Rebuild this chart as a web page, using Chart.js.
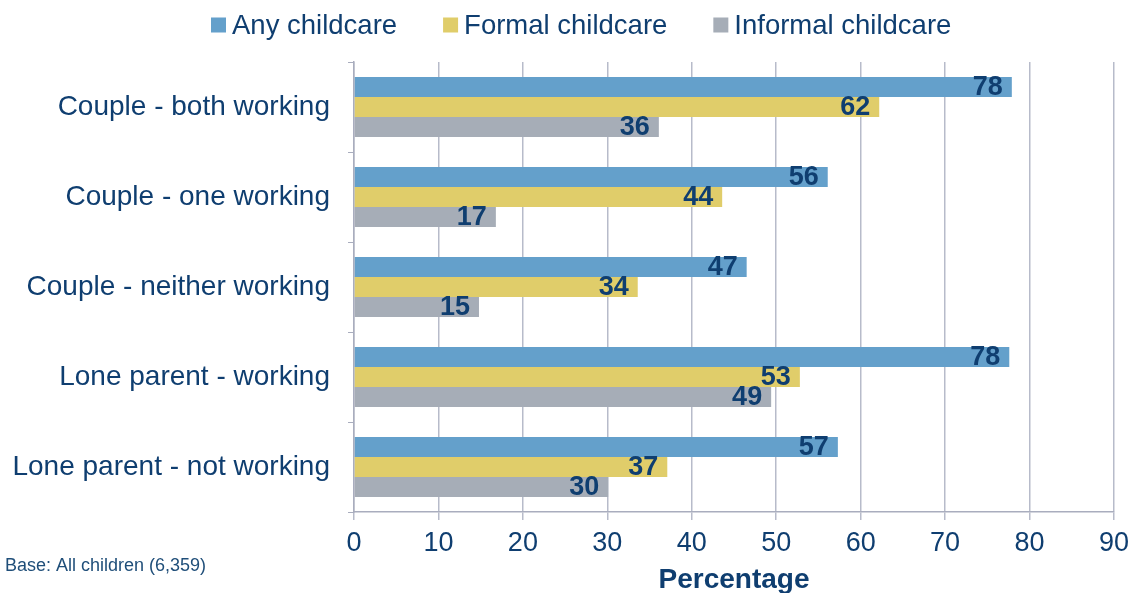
<!DOCTYPE html>
<html>
<head>
<meta charset="utf-8">
<script src="https://cdn.jsdelivr.net/npm/chart.js@4"></script>
<style>
  html, body { margin: 0; padding: 0; background: #fff; }
  #wrap { width: 1132px; height: 593px; position: relative; }
</style>
</head>
<body>
<div id="wrap"><canvas id="myChart" width="1132" height="593"></canvas></div>
<script>
const categories = ['Couple - both working', 'Couple - one working', 'Couple - neither working', 'Lone parent - working', 'Lone parent - not working'];
const seriesNames = ['Any childcare', 'Formal childcare', 'Informal childcare'];
const anyCare = [77.9, 56.1, 46.5, 77.6, 57.3];
const formalCare = [62.2, 43.6, 33.6, 52.8, 37.1];
const informalCare = [36.1, 16.8, 14.8, 49.4, 30.1];
const xTicks = [0, 10, 20, 30, 40, 50, 60, 70, 80, 90];
const colors = ['#64A0CB', '#E0CD6A', '#A6ADB7'];

const navy = '#0F3E70';
const fontFam = '"Liberation Sans", Arial, sans-serif';

// value labels at the end of each bar
const barLabels = {
    id: 'barLabels',
    afterDatasetsDraw(chart) {
        const ctx = chart.ctx;
        ctx.save();
        ctx.font = 'bold 27px ' + fontFam;
        ctx.fillStyle = navy;
        ctx.textAlign = 'right';
        ctx.textBaseline = 'middle';
        chart.data.datasets.forEach((ds, i) => {
            chart.getDatasetMeta(i).data.forEach((bar, j) => {
                ctx.fillText(Math.round(ds.data[j]), bar.x - 9, bar.y + 1);
            });
        });
        ctx.restore();
    }
};

// legend on top and base note at bottom left
const extras = {
    id: 'extras',
    afterDraw(chart) {
        const ctx = chart.ctx;
        ctx.save();
        ctx.font = '27.5px ' + fontFam;
        ctx.textBaseline = 'middle';
        let widths = seriesNames.map(n => ctx.measureText(n).width);
        let box = 15, gap = 6, space = 46;
        let x = 211;
        let y = 25;
        seriesNames.forEach((n, i) => {
            ctx.fillStyle = colors[i];
            ctx.fillRect(x, y - box / 2, box, box);
            x += box + gap;
            ctx.fillStyle = navy;
            ctx.textAlign = 'left';
            ctx.fillText(n, x, y + 1);
            x += widths[i] + space;
        });
        ctx.font = '18px ' + fontFam;
        ctx.fillStyle = '#1F4E79';
        ctx.fillText('Base: All children (6,359)', 5, 566);
        ctx.restore();
    }
};

const config = {
    type: 'bar',
    data: {
        labels: categories,
        datasets: [
            { label: seriesNames[0], data: anyCare, backgroundColor: colors[0] },
            { label: seriesNames[1], data: formalCare, backgroundColor: colors[1] },
            { label: seriesNames[2], data: informalCare, backgroundColor: colors[2] }
        ]
    },
    options: {
        indexAxis: 'y',
        responsive: false,
        animation: false,
        datasets: { bar: { categoryPercentage: 0.667, barPercentage: 1.0 } },
        layout: { padding: { top: 62, right: 18, left: 0, bottom: 0 } },
        plugins: { legend: { display: false }, tooltip: { enabled: false } },
        scales: {
            x: {
                min: 0, max: 90,
                afterBuildTicks(scale) { scale.ticks = xTicks.map(v => ({ value: v })); },
                afterFit(scale) {
                    scale.height = 81;
                    scale.paddingLeft = 0;
                    scale.paddingRight = 0;
                },
                grid: { color: '#B7BBCA', lineWidth: 1.5, tickLength: 8 },
                border: { color: '#A9ADBE', width: 1.5 },
                ticks: { color: navy, font: { size: 27, family: fontFam }, padding: 7, maxRotation: 0 },
                title: { display: true, text: 'Percentage', color: navy, font: { size: 28, weight: 'bold', family: fontFam }, padding: { top: -4, bottom: -4 } }
            },
            y: {
                afterFit(scale) { scale.width = 354; },
                grid: { drawOnChartArea: false, color: '#A9ADBE', tickLength: 6 },
                border: { color: '#A9ADBE', width: 1.5 },
                ticks: { color: navy, font: { size: 28, family: fontFam }, padding: 18 }
            }
        }
    },
    plugins: [barLabels, extras]
};

const chart = new Chart(document.getElementById('myChart'), config);
</script>
</body>
</html>
